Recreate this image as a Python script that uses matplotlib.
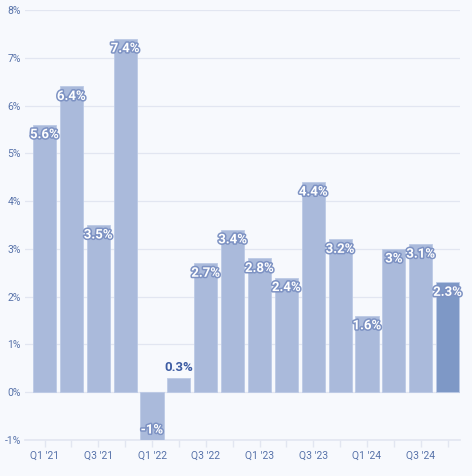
import matplotlib
matplotlib.use("Agg")
import matplotlib.pyplot as plt
import matplotlib.patheffects as pe
import numpy as np

quarters = ["Q1 '21", "Q2 '21", "Q3 '21", "Q4 '21",
            "Q1 '22", "Q2 '22", "Q3 '22", "Q4 '22",
            "Q1 '23", "Q2 '23", "Q3 '23", "Q4 '23",
            "Q1 '24", "Q2 '24", "Q3 '24", "Q4 '24"]
values = [5.6, 6.4, 3.5, 7.4, -1.0, 0.3, 2.7, 3.4, 2.8, 2.4, 4.4, 3.2, 1.6, 3.0, 3.1, 2.3]
labels = ["5.6%", "6.4%", "3.5%", "7.4%", "-1%", "0.3%", "2.7%", "3.4%", "2.8%", "2.4%",
          "4.4%", "3.2%", "1.6%", "3%", "3.1%", "2.3%"]
yticks = [-1, 0, 1, 2, 3, 4, 5, 6, 7, 8]

bg = "#f7f9fd"
bar_c = "#aabadb"
last_c = "#7e98c6"
tick_c = "#5873aa"
grid_c = "#e2e6f1"

fig = plt.figure(figsize=(4.72, 4.76), dpi=100, facecolor=bg)
ax = fig.add_axes([25/472, 1 - 440/476, (460 - 25)/472, (440 - 10)/476])
ax.set_facecolor(bg)

x = np.arange(len(values))
colors = [bar_c] * (len(values) - 1) + [last_c]
bars = ax.bar(x, values, width=0.86, color=colors, edgecolor="#bccae6", linewidth=0.6, zorder=3)

ax.set_xlim(-0.726, 15.46)
ax.set_ylim(-1, 8)
ax.set_yticks(yticks)
ax.set_yticklabels([f"{v}%" for v in yticks])
ax.set_xticks(x)
ax.set_xticklabels([q if i % 2 == 0 else "" for i, q in enumerate(quarters)])

for s in ["top", "right", "left"]:
    ax.spines[s].set_visible(False)
ax.spines["bottom"].set_color(grid_c)
ax.spines["bottom"].set_linewidth(1.2)
ax.grid(axis="y", color=grid_c, linewidth=0.9, zorder=0)
ax.tick_params(axis="y", length=0, pad=3, labelsize=7.5, labelcolor=tick_c)
ax.tick_params(axis="x", length=5, width=1, color=grid_c, pad=3, labelsize=7.5, labelcolor=tick_c)
for t in ax.get_xticklabels() + ax.get_yticklabels():
    t.set_family(["Roboto", "DejaVu Sans"])

stroke = [pe.withStroke(linewidth=2.2, foreground="#7d92c3")]
for xi, v, lab in zip(x, values, labels):
    if abs(v) >= 1.0:
        if v > 0:
            ax.annotate(lab, (xi, v), xytext=(0, -10), textcoords="offset pixels",
                        ha="center", va="center", fontsize=9.5, fontweight="bold",
                        family=["Roboto", "DejaVu Sans"], color="white",
                        path_effects=stroke, zorder=5)
        else:
            ax.annotate(lab, (xi, v), xytext=(0, 10), textcoords="offset pixels",
                        ha="center", va="center", fontsize=9.5, fontweight="bold",
                        family=["Roboto", "DejaVu Sans"], color="white",
                        path_effects=stroke, zorder=5)
    else:
        ax.annotate(lab, (xi, v), xytext=(0, 10), textcoords="offset pixels",
                    ha="center", va="center", fontsize=9.5, fontweight="bold",
                    family=["Roboto", "DejaVu Sans"], color="#3d5ca3", zorder=5)

fig.savefig("out.png", dpi=100, facecolor=bg)
